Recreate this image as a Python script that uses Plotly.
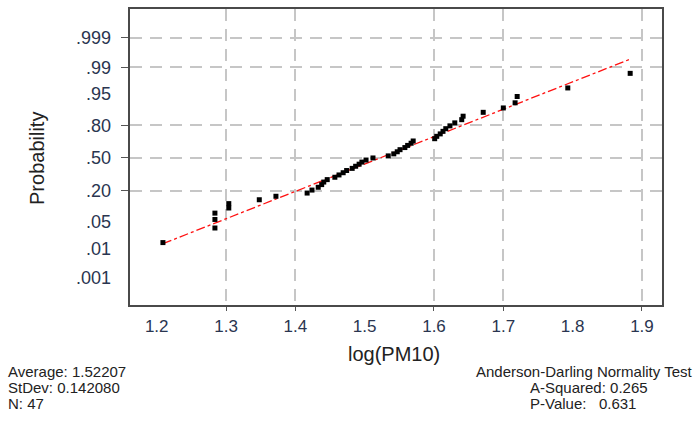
import plotly.graph_objects as go
from statistics import NormalDist

nd = NormalDist()

# ---- data ----
log_pm10 = [1.209, 1.284, 1.284, 1.284, 1.304, 1.304, 1.348, 1.372,
            1.417, 1.424, 1.433, 1.438, 1.441, 1.446, 1.457, 1.463,
            1.469, 1.474, 1.482, 1.487, 1.492, 1.496, 1.502, 1.512,
            1.534, 1.542, 1.547, 1.551, 1.558, 1.562, 1.567, 1.570,
            1.601, 1.604, 1.609, 1.613, 1.617, 1.623, 1.630, 1.640,
            1.642, 1.671, 1.700, 1.717, 1.720, 1.793, 1.883]
probability = [0.0148, 0.0359, 0.0570, 0.0781, 0.0992, 0.1203, 0.1414, 0.1624,
               0.1835, 0.2046, 0.2257, 0.2468, 0.2679, 0.2890, 0.3101, 0.3312,
               0.3523, 0.3734, 0.3945, 0.4156, 0.4367, 0.4578, 0.4789, 0.5000,
               0.5211, 0.5422, 0.5633, 0.5844, 0.6055, 0.6266, 0.6477, 0.6688,
               0.6899, 0.7110, 0.7321, 0.7532, 0.7743, 0.7954, 0.8165, 0.8376,
               0.8586, 0.8797, 0.9008, 0.9219, 0.9430, 0.9641, 0.9852]

prob_ticks = [0.001, 0.01, 0.05, 0.20, 0.50, 0.80, 0.95, 0.99, 0.999]
prob_tick_labels = [".001", ".01", ".05", ".20", ".50", ".80", ".95", ".99", ".999"]
prob_grid = [0.20, 0.50, 0.80, 0.99, 0.999]

x_ticks = [1.2, 1.3, 1.4, 1.5, 1.6, 1.7, 1.8, 1.9]
x_tick_labels = ["1.2", "1.3", "1.4", "1.5", "1.6", "1.7", "1.8", "1.9"]
x_grid = [1.3, 1.4, 1.6, 1.7, 1.9]

mean_val = 1.52207
sd_val = 0.142080
n_val = 47
a_squared = 0.265
p_value = 0.631

fit_x = [min(log_pm10), max(log_pm10)]

# ---- probability (normal) scale transform ----
def zval(p):
    return nd.inv_cdf(p)

y_pts = [zval(p) for p in probability]
fit_z = [(x - mean_val) / sd_val for x in fit_x]

X_RANGE = [1.1615, 1.9289]
Y_RANGE = [-3.78, 3.83]
FONT = "Liberation Sans, Arial, sans-serif"
TXT = "#2a3550"

fig = go.Figure()

fig.add_trace(go.Scatter(
    x=fit_x, y=fit_z, mode="lines",
    line=dict(color="#ff1010", width=1.3, dash="dashdot"),
    hoverinfo="skip", showlegend=False, xaxis="x", yaxis="y"))

fig.add_trace(go.Scatter(
    x=log_pm10, y=y_pts, mode="markers",
    marker=dict(symbol="square", size=5, color="black"),
    showlegend=False, xaxis="x2", yaxis="y2"))

fig.update_layout(
    width=699, height=421,
    margin=dict(l=130, r=37, t=7, b=116),
    paper_bgcolor="white", plot_bgcolor="white",
    font=dict(family=FONT, color="#333333"),
    xaxis=dict(range=X_RANGE, tickmode="array", tickvals=x_grid,
               showticklabels=False, ticks="outside", ticklen=4,
               tickcolor="#555555", showgrid=True, gridcolor="#c6c6c6",
               gridwidth=1.5, griddash="12px,8px", zeroline=False,
               showline=True, mirror=True, linecolor="#4a4a4a", linewidth=1.5),
    yaxis=dict(range=Y_RANGE, tickmode="array",
               tickvals=[zval(p) for p in prob_grid],
               showticklabels=False, ticks="outside", ticklen=7,
               tickcolor="#555555", showgrid=True, gridcolor="#c6c6c6",
               gridwidth=1.5, griddash="12px,8px", zeroline=False,
               showline=True, mirror=True, linecolor="#4a4a4a", linewidth=1.5),
    xaxis2=dict(range=X_RANGE, overlaying="x", anchor="y2", side="bottom",
                tickmode="array", tickvals=x_ticks, ticktext=x_tick_labels,
                ticks="", showgrid=False, zeroline=False, showline=False,
                ticklabelstandoff=9,
                tickfont=dict(family=FONT, size=17, color=TXT)),
    yaxis2=dict(range=Y_RANGE, overlaying="y", anchor="x2", side="left",
                tickmode="array", tickvals=[zval(p) for p in prob_ticks],
                ticktext=prob_tick_labels, ticks="", showgrid=False,
                zeroline=False, showline=False, ticklabelstandoff=18,
                tickfont=dict(family=FONT, size=18, color=TXT)),
)

fig.add_annotation(text="Probability", xref="paper", yref="paper",
                   x=(37 - 130) / 532, y=(305 - 158) / 298, textangle=-90,
                   showarrow=False, xanchor="center", yanchor="middle",
                   font=dict(family=FONT, size=20, color="#222222"))
fig.add_annotation(text="log(PM10)", xref="paper", yref="paper",
                   x=(394 - 130) / 532, y=(305 - 354) / 298, showarrow=False,
                   xanchor="center", yanchor="middle",
                   font=dict(family=FONT, size=20, color="#222222"))

ann_font = dict(family=FONT, size=15, color="#222222")
left_lines = [f"Average: {mean_val:.5f}", f"StDev: {sd_val:.6f}", f"N: {n_val}"]
right_lines = ["Anderson-Darling Normality Test",
               f"A-Squared: {a_squared:.3f}", f"P-Value:   {p_value:.3f}"]
line_y = [372, 388, 404]
for txt, py in zip(left_lines, line_y):
    fig.add_annotation(text=txt, xref="paper", yref="paper",
                       x=(6 - 130) / 532, y=(305 - py) / 298,
                       xanchor="left", yanchor="middle", showarrow=False,
                       font=ann_font)
right_x = [474, 528, 528]
for txt, px, py in zip(right_lines, right_x, line_y):
    fig.add_annotation(text=txt, xref="paper", yref="paper",
                       x=(px - 130) / 532, y=(305 - py) / 298,
                       xanchor="left", yanchor="middle", showarrow=False,
                       font=ann_font)

fig.write_html("out.html", config={"displayModeBar": False},
               post_script="document.body.style.margin='0px';document.body.style.padding='0px';")
